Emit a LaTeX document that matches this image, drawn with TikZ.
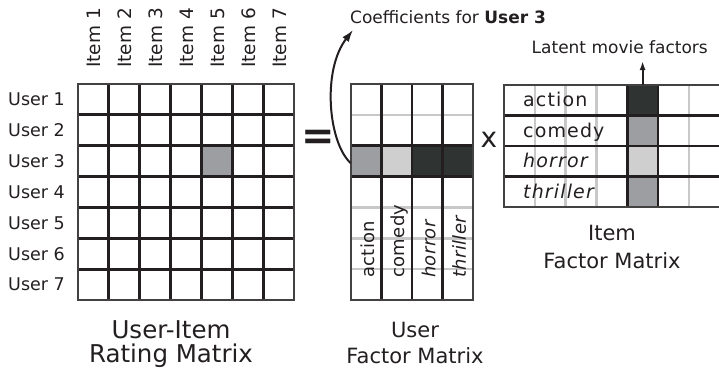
\documentclass[tikz,border=0pt]{standalone}
\usepackage{fontspec}
\setmainfont{DejaVu Sans}
\newfontfamily\factorfont[LetterSpace=6]{DejaVu Sans}
\newfontfamily\narrowfactorfont[LetterSpace=2]{DejaVu Sans}
\usetikzlibrary{arrows.meta}

\definecolor{ink}{HTML}{231F20}
\definecolor{darkcell}{HTML}{2F3331}
\definecolor{midcell}{HTML}{9D9EA1}
\definecolor{lightcell}{HTML}{CFCFCF}
\definecolor{gridgray}{HTML}{C8C8C8}

\tikzset{
  gridline/.style={draw=ink, line width=2.8pt},
  frameline/.style={draw=ink!85, line width=2pt},
  softline/.style={draw=gridgray, line width=2.4pt},
  rowlabel/.style={font=\fontsize{17.5}{20}\selectfont, text=ink, anchor=east, inner sep=0pt},
  collabel/.style={font=\fontsize{18.5}{20}\selectfont, text=ink, rotate=90, anchor=base west, inner sep=0pt},
  factorlabel/.style={font=\factorfont\fontsize{19}{22}\selectfont, text=ink, inner sep=0pt, anchor=base west},
  upfactorlabel/.style={font=\narrowfactorfont\fontsize{18}{22}\selectfont, text=ink, inner sep=0pt, anchor=base west, rotate=90},
  caption/.style={text=ink, inner sep=0pt, anchor=base},
  bigcap/.style={caption, font=\fontsize{24.5}{25}\selectfont},
  smallcap/.style={caption, font=\fontsize{21}{24}\selectfont},
  note/.style={font=\fontsize{17}{20}\selectfont, text=ink, anchor=base west, inner sep=0pt},
  pointer/.style={draw=ink, line width=2pt},
  region/.style={inner sep=0pt, outer sep=0pt, anchor=north west},
}

\begin{document}
\begin{tikzpicture}[x=1pt,y=-1pt]
\useasboundingbox (0,0) rectangle (719,368);

% ---------- user-item rating matrix (7 x 7) ----------
\def\ax{77.7}\def\ay{84}\def\aw{30.95}\def\ah{30.86}
\fill[midcell] ({\ax+4*\aw},{\ay+2*\ah}) rectangle ++(\aw,\ah);
\foreach \i in {1,...,6} {
  \draw[gridline] ({\ax+\i*\aw},\ay) -- ({\ax+\i*\aw},{\ay+7*\ah});
  \draw[gridline] (\ax,{\ay+\i*\ah}) -- ({\ax+7*\aw},{\ay+\i*\ah});
}
\draw[frameline] (\ax,\ay) rectangle ({\ax+7*\aw},{\ay+7*\ah});
\foreach \i in {1,...,7} {
  \node[rowlabel] (user\i) at (65,{\ay+(\i-0.5)*\ah}) {User \i};
  \node[collabel] (item\i) at ({\ax+(\i-0.5)*\aw+7.5},68) {Item \i};
}
\node[bigcap] (ratingA) at (171,338) {User-Item};
\node[bigcap] (ratingB) at (171,362) {Rating Matrix};

% ---------- equals and times signs ----------
\node[font=\bfseries\fontsize{40}{40}\selectfont, text=ink, inner sep=0pt] (equals) at (318,140) {=};
\node[font=\fontsize{28}{28}\selectfont, text=ink, inner sep=0pt] (times) at (489,140) {x};

% ---------- user factor matrix (7 x 4) ----------
\def\bx{350.7}\def\by{84}\def\bw{30.65}\def\bh{30.86}
\fill[midcell]   (\bx,{\by+2*\bh}) rectangle ++(\bw,\bh);
\fill[lightcell] ({\bx+\bw},{\by+2*\bh}) rectangle ++(\bw,\bh);
\fill[darkcell]  ({\bx+2*\bw},{\by+2*\bh}) rectangle ++({2*\bw},\bh);
\foreach \i in {1,4,5,6}
  \draw[softline] (\bx,{\by+\i*\bh}) -- ({\bx+4*\bw},{\by+\i*\bh});
\foreach \i in {2,3}
  \draw[gridline] (\bx,{\by+\i*\bh}) -- ({\bx+4*\bw},{\by+\i*\bh});
\foreach \i in {1,2,3}
  \draw[gridline] ({\bx+\i*\bw},\by) -- ({\bx+\i*\bw},{\by+7*\bh});
\draw[frameline] (\bx,\by) rectangle ({\bx+4*\bw},{\by+7*\bh});
\node[region, minimum width=122.6pt, minimum height=30.86pt] (userrow) at (\bx,{\by+2*\bh}) {};
\foreach \t/\s [count=\i] in {action/, comedy/, horror/\itshape, thriller/\itshape}
  \node[upfactorlabel] (uf\i) at ({\bx+(\i-0.5)*\bw+8},278) {\s\t};
\node[smallcap] (userA) at (415,337) {User};
\node[smallcap] (userB) at (415,363) {Factor Matrix};

% ---------- item factor matrix (4 x 7, runs off the right edge) ----------
\def\cx{504}\def\cy{85}\def\cw{30.8}\def\ch{30.5}
\fill[darkcell]  ({\cx+4*\cw},\cy) rectangle ++(\cw,\ch);
\fill[midcell]   ({\cx+4*\cw},{\cy+\ch}) rectangle ++(\cw,\ch);
\fill[lightcell] ({\cx+4*\cw},{\cy+2*\ch}) rectangle ++(\cw,\ch);
\fill[midcell]   ({\cx+4*\cw},{\cy+3*\ch}) rectangle ++(\cw,\ch);
\foreach \i in {1,2,3,6}
  \draw[softline] ({\cx+\i*\cw},\cy) -- ({\cx+\i*\cw},{\cy+4*\ch});
\foreach \i in {4,5}
  \draw[gridline] ({\cx+\i*\cw},\cy) -- ({\cx+\i*\cw},{\cy+4*\ch});
\foreach \i in {1,2,3}
  \draw[gridline] (\cx,{\cy+\i*\ch}) -- (722,{\cy+\i*\ch});
\draw[frameline] (\cx,\cy) rectangle (722,{\cy+4*\ch});
\node[region, minimum width=30.8pt, minimum height=122pt] (itemcol) at ({\cx+4*\cw},\cy) {};
\foreach \t/\s [count=\i] in {action/, comedy/, horror/\itshape, thriller/\itshape}
  \node[factorlabel] (if\i) at (523,{\cy+(\i-0.5)*\ch+6.5}) {\s\t};
\node[smallcap] (itemA) at (612,240) {Item};
\node[smallcap] (itemB) at (612,268) {Factor Matrix};

% ---------- annotations ----------
\node[note] (coef) at (350,23) {Coefficients for \textbf{User 3}};
\node[note] (latent) at (531.5,53) {Latent movie factors};
\coordinate (coeftip) at (353,30);
\coordinate (latenttip) at (itemcol.north |- 0,61);
\draw[pointer, -{Latex[length=12pt,width=8pt]}]
  ([yshift=-2pt]userrow.west) .. controls +(-22.7,-21) and +(-31,40) .. (coeftip);
\draw[pointer, -{Latex[length=9pt,width=6pt]}] (itemcol.north) -- (latenttip);
\end{tikzpicture}
\end{document}
